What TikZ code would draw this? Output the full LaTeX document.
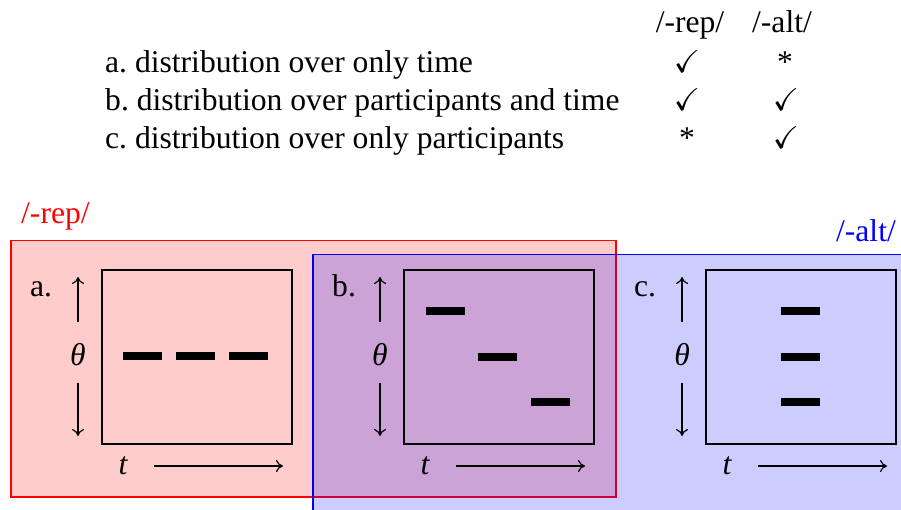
\documentclass[tikz,border=0pt]{standalone}
\usepackage{amssymb}
\usepackage{fontspec}
\setmainfont{Liberation Serif}
\usetikzlibrary{arrows.meta}
\begin{document}
\frenchspacing
\begin{tikzpicture}[x=1pt,y=-1pt,
  font=\fontsize{31.6}{38}\selectfont,
  panelbox/.style={draw=black, line width=2pt, inner sep=0pt, anchor=north west,
    minimum width=190pt, minimum height=174pt},
  bar/.style={fill=black, inner sep=0pt, minimum width=39pt, minimum height=8pt},
  axis/.style={-{Computer Modern Rightarrow[length=7pt,width=12pt,line width=1.2pt]}, line width=1.2pt},
  txt/.style={inner sep=0pt, anchor=base}
]
\useasboundingbox (0,0) rectangle (901,510);
\clip (0,0) rectangle (901,510);

% top table
\node[txt] (hrep) at (690,33) {/-rep/};
\node[txt] (halt) at (782,33) {/-alt/};
\node[txt, anchor=base west] (rowa) at (105,73) {a. distribution over only time};
\node[txt, anchor=base west] (rowb) at (105,111) {b. distribution over participants and time};
\node[txt, anchor=base west] (rowc) at (105,149) {c. distribution over only participants};
\node[txt] (ra) at (687,73) {$\checkmark$};
\node[txt] (aa) at (785,73) {*};
\node[txt] (rb) at (687,111) {$\checkmark$};
\node[txt] (ab) at (786,111) {$\checkmark$};
\node[txt] (rc) at (687,149) {*};
\node[txt] (ac) at (786,149) {$\checkmark$};

% regions
\node[draw=red, fill=red!20, line width=1.5pt, inner sep=0pt, anchor=north west,
  minimum width=605pt, minimum height=256pt] (repregion) at (10,240) {};
\node[draw=blue, fill=blue, fill opacity=0.2, draw opacity=1, line width=1.5pt, inner sep=0pt, anchor=north west,
  minimum width=620pt, minimum height=280pt] (altregion) at (312,254) {};
\node[txt, text=red, anchor=base west] (replabel) at (21,224) {/-rep/};
\node[txt, text=blue, anchor=base east] (altlabel) at (896,242) {/-alt/};

% panels
\foreach \L/\n in {101/a,403/b,705/c}{
  \node[panelbox] (box\n) at (\L,269) {};
  \node[txt, anchor=base west] (lab\n) at (\L-71,297) {\n.};
  \node (theta\n) at (\L-23,355) {\itshape θ};
  \coordinate (upA\n) at (\L-23,322);
  \coordinate (upB\n) at (\L-23,277);
  \coordinate (dnA\n) at (\L-23,383);
  \coordinate (dnB\n) at (\L-23,436);
  \draw[axis] (upA\n) -- (upB\n);
  \draw[axis] (dnA\n) -- (dnB\n);
  \node (t\n) at (\L+22,466) {\itshape t};
  \coordinate (tA\n) at (\L+53,466);
  \coordinate (tB\n) at (\L+182,466);
  \draw[axis] (tA\n) -- (tB\n);
}

% bars
\node[bar] (a1) at (142.5,356) {};
\node[bar] (a2) at (195,356) {};
\node[bar] (a3) at (248,356) {};
\node[bar] (b1) at (445,311) {};
\node[bar] (b2) at (497.5,357) {};
\node[bar] (b3) at (550.5,402) {};
\node[bar] (c1) at (800,311) {};
\node[bar] (c2) at (800,357) {};
\node[bar] (c3) at (800,402) {};
\end{tikzpicture}
\end{document}
